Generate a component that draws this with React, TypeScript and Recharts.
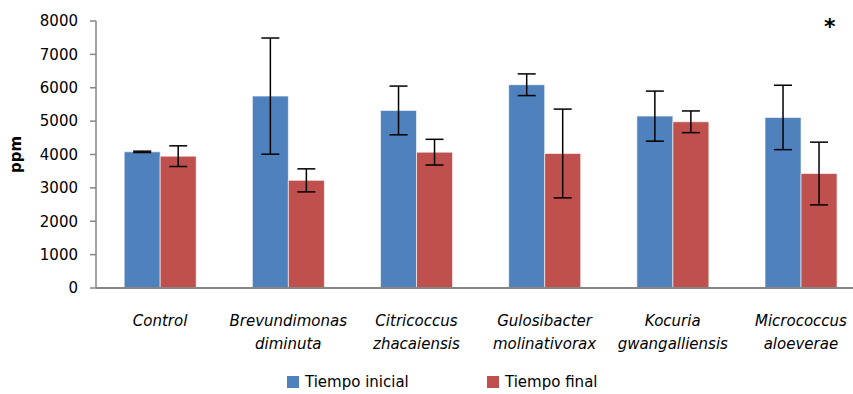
import { BarChart, Bar, XAxis, YAxis, ErrorBar, Legend } from 'recharts';

const categories = [
    'Control',
    'Brevundimonas diminuta',
    'Citricoccus zhacaiensis',
    'Gulosibacter molinativorax',
    'Kocuria gwangalliensis',
    'Micrococcus aloeverae',
];
const tiempoInicial = [4080, 5750, 5320, 6090, 5150, 5110];
const errInicial = [20, 1740, 730, 325, 750, 965];
const tiempoFinal = [3950, 3225, 4070, 4030, 4980, 3430];
const errFinal = [310, 345, 385, 1330, 325, 940];
const yTicks = [0, 1000, 2000, 3000, 4000, 5000, 6000, 7000, 8000];
const boundaryTicks = [0, 1, 2, 3, 4, 5, 6];
const seriesNames = ['Tiempo inicial', 'Tiempo final'];
const seriesColors = ['#4F81BD', '#C0504D'];

const data = categories.map((name, i) => ({
    name,
    ini: tiempoInicial[i],
    iniErr: errInicial[i],
    fin: tiempoFinal[i],
    finErr: errFinal[i],
}));

const FONT = '"DejaVu Sans", sans-serif';

function CategoryTick({ x, y, payload }: any) {
    const lines = String(payload.value).split(' ');
    return (
        <text x={x} y={y} textAnchor="middle" fontFamily={FONT} fontSize={15} fontStyle="italic" fill="#000">
            {lines.map((l, i) => (
                <tspan key={i} x={x} dy={i === 0 ? 24 : 23}>{l}</tspan>
            ))}
        </text>
    );
}

function LegendContent() {
    return (
        <div style={{ position: 'relative', height: 30, fontFamily: FONT, fontSize: 15, lineHeight: '18px', color: '#000' }}>
            {seriesNames.map((n, i) => (
                <div key={n} style={{ position: 'absolute', left: i === 0 ? 287 : 487, top: 15, display: 'flex', alignItems: 'center', whiteSpace: 'nowrap' }}>
                    <span style={{ width: 12, height: 12, background: seriesColors[i], marginRight: 6, display: 'inline-block' }} />
                    <span>{n}</span>
                </div>
            ))}
        </div>
    );
}

export default function App() {
    return (
        <div style={{ position: 'absolute', left: 0, top: 0, width: 853, height: 394, overflow: 'hidden', background: '#fff' }}>
            <BarChart
                width={880}
                height={394}
                data={data}
                margin={{ top: 21, right: 15, left: 0, bottom: 6 }}
                barCategoryGap="22%"
                barGap={0}
            >
                <XAxis
                    xAxisId="b"
                    dataKey="name"
                    axisLine={false}
                    tickLine={false}
                    tick={<CategoryTick />}
                    interval={0}
                    height={64}
                />
                <XAxis
                    xAxisId="a"
                    type="number"
                    domain={[0, 6]}
                    ticks={boundaryTicks}
                    tick={false}
                    tickSize={6}
                    height={6}
                    stroke="#868686"
                    strokeWidth={2}
                />
                <YAxis
                    domain={[0, 8000]}
                    ticks={yTicks}
                    width={96}
                    tickSize={6}
                    tickMargin={12}
                    stroke="#868686"
                    strokeWidth={1.5}
                    tick={{ fill: '#000', fontSize: 15, fontFamily: FONT }}
                    label={{ value: 'ppm', angle: -90, position: 'insideLeft', offset: 16, style: { fontFamily: FONT, fontSize: 15, fontWeight: 'bold', fill: '#000', textAnchor: 'middle' } }}
                />
                <Legend verticalAlign="bottom" height={30} content={<LegendContent />} />
                <Bar xAxisId="b" dataKey="ini" name={seriesNames[0]} fill={seriesColors[0]} stroke="rgba(255,255,255,0.6)" isAnimationActive={false}>
                    <ErrorBar dataKey="iniErr" width={9} stroke="#000" strokeWidth={1.5} direction="y" />
                </Bar>
                <Bar xAxisId="b" dataKey="fin" name={seriesNames[1]} fill={seriesColors[1]} stroke="rgba(255,255,255,0.6)" isAnimationActive={false}>
                    <ErrorBar dataKey="finErr" width={9} stroke="#000" strokeWidth={1.5} direction="y" />
                </Bar>
            </BarChart>
            <span style={{ position: 'absolute', left: 824, top: 14, fontFamily: FONT, fontSize: 22, fontWeight: 'bold' }}>*</span>
        </div>
    );
}
